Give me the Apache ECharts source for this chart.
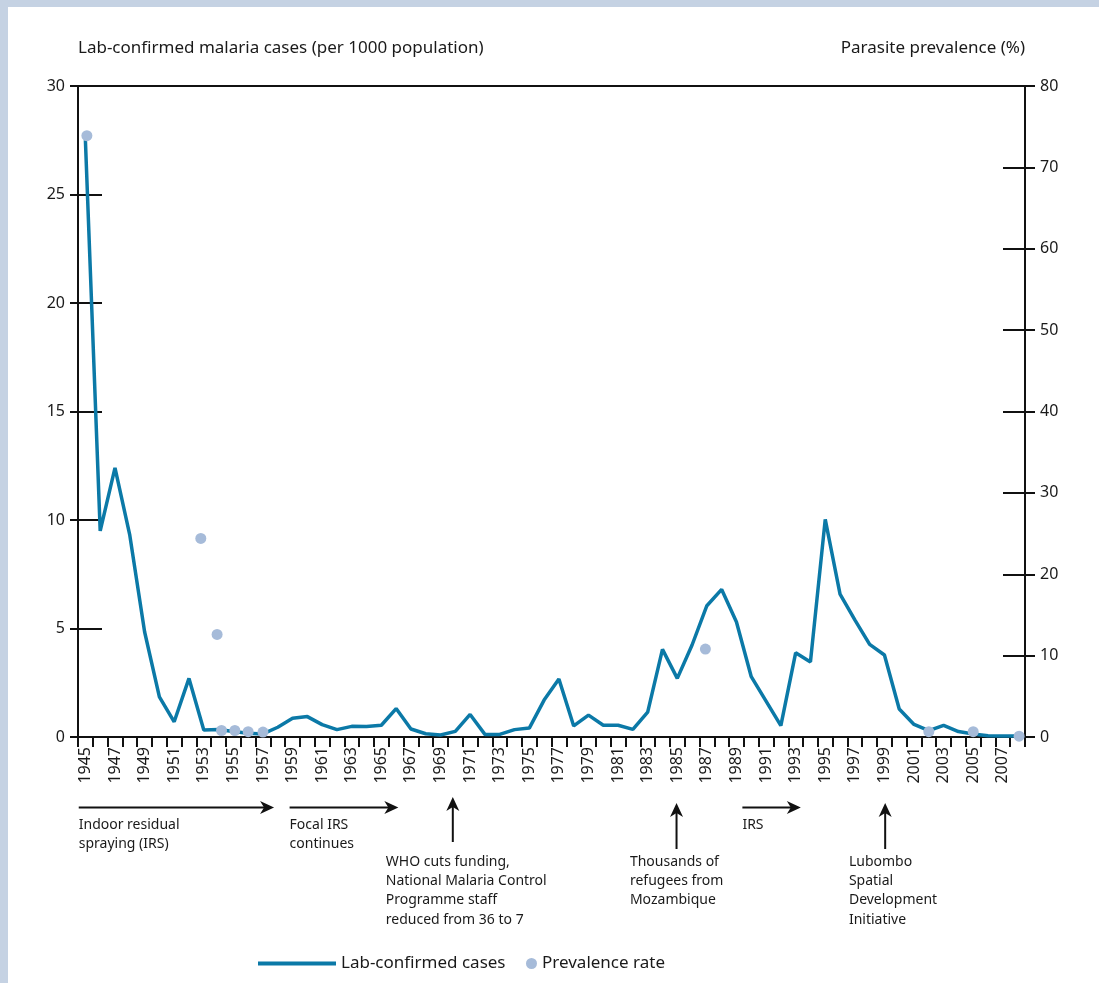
<!DOCTYPE html>
<html><head><meta charset="utf-8">
<script src="https://cdn.jsdelivr.net/npm/echarts@6/dist/echarts.min.js"></script>
<style>
html,body{margin:0;padding:0;width:1099px;height:983px;background:#c5d2e3;overflow:hidden}
#panel{position:absolute;left:8px;top:7px;right:0;bottom:0;background:#fff}
#chart{position:absolute;left:0;top:0;width:1099px;height:983px}
</style></head><body>
<div id="panel"></div><div id="chart"></div>
<script>
const years = ['1945','1946','1947','1948','1949','1950','1951','1952','1953','1954','1955','1956','1957','1958','1959','1960','1961','1962','1963','1964','1965','1966','1967','1968','1969','1970','1971','1972','1973','1974','1975','1976','1977','1978','1979','1980','1981','1982','1983','1984','1985','1986','1987','1988','1989','1990','1991','1992','1993','1994','1995','1996','1997','1998','1999','2000','2001','2002','2003','2004','2005','2006','2007','2008'];
const cases = [27.5,9.5,12.4,9.3,4.85,1.85,0.7,2.7,0.32,0.35,0.25,0.17,0.14,0.45,0.86,0.94,0.57,0.34,0.49,0.48,0.54,1.31,0.37,0.15,0.09,0.26,1.04,0.12,0.12,0.34,0.41,1.7,2.67,0.51,1.01,0.54,0.54,0.35,1.15,4.04,2.7,4.24,6.05,6.8,5.3,2.78,1.65,0.52,3.88,3.46,10.03,6.58,5.4,4.27,3.78,1.29,0.58,0.29,0.54,0.25,0.14,0.06,0.05,0.05];
const prevalenceYears = [1945.1,1952.8,1953.9,1954.2,1955.1,1956,1957,1986.9,2002,2005,2008.1];
const prevalence = [73.9,24.4,12.6,0.8,0.8,0.65,0.6,10.8,0.65,0.65,0.1];
const leftAxis = {min:0, max:30, interval:5};
const rightAxis = {min:0, max:80, interval:10};
const annotations = [
  {kind:'right', from:1944.55, to:1957.75, textAt:1944.55, lines:['Indoor residual','spraying (IRS)']},
  {kind:'right', from:1958.8, to:1966.15, textAt:1958.8, lines:['Focal IRS','continues']},
  {kind:'up', at:1969.83, tip:797, base:842, textAt:1965.3, lines:['WHO cuts funding,','National Malaria Control','Programme staff','reduced from 36 to 7']},
  {kind:'up', at:1984.95, tip:803, base:849, textAt:1981.8, lines:['Thousands of','refugees from','Mozambique']},
  {kind:'right', from:1989.4, to:1993.35, textAt:1989.4, lines:['IRS']},
  {kind:'up', at:1999.05, tip:803, base:849, textAt:1996.6, lines:['Lubombo','Spatial','Development','Initiative']}
];

const FONT = 'Noto Sans';
const INK = '#1a1a1a';
const LINE = '#0b79a7';
const DOT = '#a6bbd9';
const chart = echarts.init(document.getElementById('chart'), null, {renderer:'canvas'});
const axisLine = {show:true, onZero:false, lineStyle:{color:'#111', width:2}};
chart.setOption({
  animation:false,
  backgroundColor:'transparent',
  textStyle:{fontFamily:FONT},
  grid:{left:78, right:74, top:86, bottom:246},
  xAxis:[
    {type:'category', data:years, position:'bottom', boundaryGap:true,
     axisLine:axisLine,
     axisTick:{show:true, interval:0, length:10, inside:false, lineStyle:{color:'#111', width:2}},
     axisLabel:{interval:1, rotate:90, margin:10, fontSize:16, color:INK, fontFamily:FONT},
     splitLine:{show:false}},
    {type:'value', position:'top', min:1944.5, max:2008.5,
     axisLine:axisLine, axisTick:{show:false}, axisLabel:{show:false}, splitLine:{show:false}}
  ],
  yAxis:[
    {type:'value', position:'left', min:leftAxis.min, max:leftAxis.max, interval:leftAxis.interval,
     name:'Lab-confirmed malaria cases (per 1000 population)', nameLocation:'end', nameGap:38,
     nameTextStyle:{fontSize:17, color:INK, align:'left', verticalAlign:'middle', fontFamily:FONT},
     axisLine:axisLine, axisTick:{show:true, length:8, lineStyle:{color:'#111', width:2}},
     axisLabel:{margin:13, fontSize:16, color:INK, fontFamily:FONT}, splitLine:{show:false}},
    {type:'value', position:'right', min:rightAxis.min, max:rightAxis.max, interval:rightAxis.interval,
     name:'Parasite prevalence (%)', nameLocation:'end', nameGap:38,
     nameTextStyle:{fontSize:17, color:INK, align:'right', verticalAlign:'middle', fontFamily:FONT},
     axisLine:axisLine, axisTick:{show:true, length:10, lineStyle:{color:'#111', width:2}},
     axisLabel:{margin:15, fontSize:16, color:INK, fontFamily:FONT}, splitLine:{show:false}},
    {type:'value', position:'left', offset:0, min:leftAxis.min, max:leftAxis.max, interval:leftAxis.interval,
     axisLine:{show:false}, axisTick:{show:true, inside:true, length:24, lineStyle:{color:'#111', width:2}},
     axisLabel:{show:false}, splitLine:{show:false}},
    {type:'value', position:'right', offset:0, min:rightAxis.min, max:rightAxis.max, interval:rightAxis.interval,
     axisLine:{show:false}, axisTick:{show:true, inside:true, length:22, lineStyle:{color:'#111', width:2}},
     axisLabel:{show:false}, splitLine:{show:false}}
  ],
  legend:[
    {data:[{name:'Lab-confirmed cases', icon:'rect'}], left:258, top:955, padding:0,
     itemWidth:78, itemHeight:4, textStyle:{fontSize:17, color:INK, fontFamily:FONT}},
    {data:[{name:'Prevalence rate', icon:'circle'}], left:526, top:955, padding:0,
     itemWidth:11, itemHeight:11, textStyle:{fontSize:17, color:INK, fontFamily:FONT}}
  ],
  series:[
    {name:'Lab-confirmed cases', type:'line', xAxisIndex:0, yAxisIndex:0, data:cases,
     symbol:'none', lineStyle:{color:LINE, width:3.5}, itemStyle:{color:LINE}, z:2},
    {name:'Prevalence rate', type:'scatter', xAxisIndex:1, yAxisIndex:1,
     data:prevalenceYears.map((y,i)=>[y, prevalence[i]]),
     symbolSize:11, itemStyle:{color:DOT, opacity:1}, z:3}
  ]
});

const px = y => chart.convertToPixel({xAxisIndex:1}, y);
const graphics = [];
const stroke = {stroke:'#111', lineWidth:2};
const HY = 807.5;
annotations.forEach(a => {
  let textTop;
  if (a.kind === 'right') {
    const x1 = px(a.from), x2 = px(a.to);
    graphics.push({type:'line', shape:{x1:x1, y1:HY, x2:x2-9, y2:HY}, style:stroke, silent:true});
    graphics.push({type:'polygon', shape:{points:[[x2,HY],[x2-14,HY-6.5],[x2-10,HY],[x2-14,HY+6.5]]}, style:{fill:'#111'}, silent:true});
    textTop = 815;
  } else {
    const x = px(a.at);
    graphics.push({type:'line', shape:{x1:x, y1:a.base, x2:x, y2:a.tip+9}, style:stroke, silent:true});
    graphics.push({type:'polygon', shape:{points:[[x,a.tip],[x-6.5,a.tip+14],[x,a.tip+10],[x+6.5,a.tip+14]]}, style:{fill:'#111'}, silent:true});
    textTop = 852;
  }
  graphics.push({type:'text', left:px(a.textAt), top:textTop, silent:true,
    style:{text:a.lines.join('\n'), fontSize:14, fontFamily:FONT, fill:INK, lineHeight:19.4}});
});
chart.setOption({graphic:graphics});
</script>
</body></html>
